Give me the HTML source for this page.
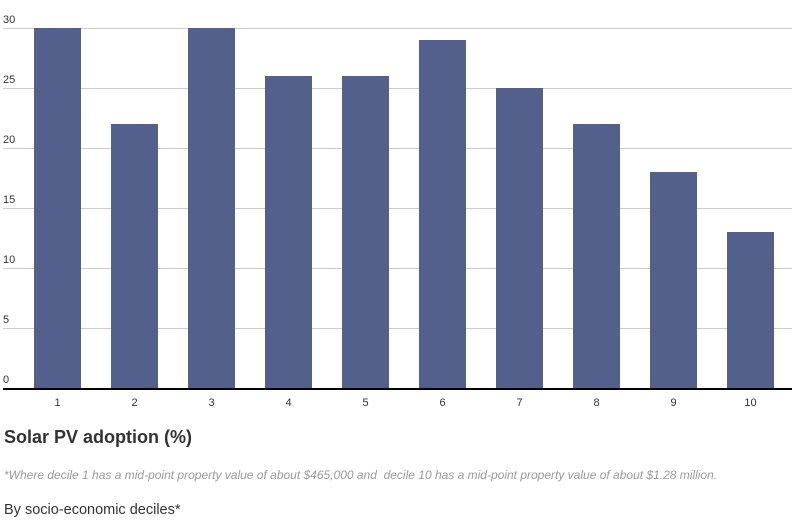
<!DOCTYPE html>
<html><head><meta charset="utf-8"><style>
body{margin:0;width:794px;height:522px;background:#fff;font-family:"Liberation Sans",sans-serif;overflow:hidden;position:relative}
.t{position:absolute;white-space:nowrap}
</style></head><body>
<svg width="794" height="415" style="position:absolute;left:0;top:0" id="c"></svg>
<div class="t" style="left:4px;top:427px;font-size:18px;font-weight:bold;color:#333">Solar PV adoption (%)</div>
<div class="t" style="left:4px;top:468px;font-size:12px;font-style:italic;color:#999">*Where decile 1 has a mid-point property value of about $465,000 and&nbsp; decile 10 has a mid-point property value of about $1.28 million.</div>
<div class="t" style="left:4px;top:502px;font-size:14.5px;color:#333">By socio-economic deciles*</div>
<script>
const categories=["1","2","3","4","5","6","7","8","9","10"];
const values=[30,22,30,26,26,29,25,22,18,13];
const yTicks=[0,5,10,15,20,25,30];
const svg=document.getElementById('c');
const NS='http://www.w3.org/2000/svg';
const y=v=>388-v*12;
const x=i=>57.5+i*77;
function mk(t,a){const e=document.createElementNS(NS,t);for(const k in a)e.setAttribute(k,a[k]);svg.appendChild(e);return e;}
yTicks.forEach(v=>{
 if(v>0){const l=mk('line',{x1:3,x2:792,y1:y(v)+0.5,y2:y(v)+0.5,stroke:'#ccc','stroke-width':1});
 
 }
 const t=mk('text',{x:3,y:y(v)-5,'font-size':11,fill:'#333','font-family':'Liberation Sans, sans-serif'});
 t.textContent=v;
 
 
});
values.forEach((v,i)=>{
 const r=mk('rect',{x:x(i)-23.5,y:y(v),width:47,height:388-y(v),fill:'#53608c'});
 
 
 const t=mk('text',{x:x(i),y:406,'font-size':11,fill:'#333','text-anchor':'middle','font-family':'Liberation Sans, sans-serif'});
 t.textContent=categories[i];
 
 
});
const ax=mk('line',{x1:3,x2:792,y1:389,y2:389,stroke:'#000','stroke-width':2});


</script>
</body></html>
